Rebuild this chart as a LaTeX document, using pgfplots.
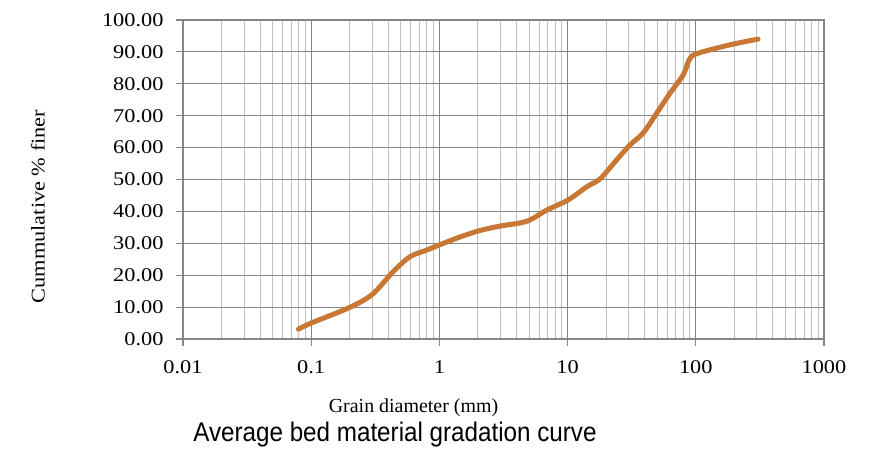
\documentclass[border=0pt]{standalone}
\usepackage{pgfplots}
\pgfplotsset{compat=1.18}
\usepackage{fontspec}
\setmainfont{Liberation Serif}
\newfontfamily\tnrwide[FakeStretch=1.15]{Liberation Serif}
\newfontfamily\arial[FakeStretch=0.9]{Liberation Sans}
\definecolor{curve}{RGB}{200,120,52}
\definecolor{majgrid}{RGB}{134,134,134}
\definecolor{mingrid}{RGB}{192,192,192}
\begin{document}
\begin{tikzpicture}
\useasboundingbox (-183bp,-116bp) rectangle (688bp,339bp);
\begin{axis}[
  at={(0,0)}, anchor=south west,
  scale only axis, width=641bp, height=319bp,
  xmode=log, log basis x=10,
  xmin=0.01, xmax=1000, ymin=0, ymax=100,
  xtick={0.01,0.1,1,10,100,1000},
  xticklabels={0.01,0.1,1,10,100,1000},
  minor xtick={0.02,0.03,0.04,0.05,0.06,0.07,0.08,0.09,
               0.2,0.3,0.4,0.5,0.6,0.7,0.8,0.9,
               2,3,4,5,6,7,8,9,
               20,30,40,50,60,70,80,90,
               200,300,400,500,600,700,800,900},
  ytick={0,10,...,100},
  yticklabel={\pgfmathprintnumber[fixed,fixed zerofill,precision=2]{\tick}},
  /pgf/number format/assume math mode=true,
  tick label style={font=\tnrwide\fontsize{19.5}{22}\selectfont},
  xlabel={Grain diameter (mm)},
  ylabel={Cummulative \% finer},
  xlabel style={font=\fontsize{20}{23}\selectfont, at={(axis description cs:0.5,0)}, anchor=center, yshift=-69bp, xshift=-90bp},
  ylabel style={font=\tnrwide\fontsize{19.5}{23}\selectfont, at={(axis description cs:0,0.5)}, anchor=center, yshift=145bp, xshift=-27bp},
  grid=both,
  major grid style={draw=majgrid, line width=1.1bp},
  minor grid style={draw=mingrid, line width=1bp},
  axis line style={draw=majgrid, line width=1.1bp},
  tick align=outside,
  major tick length=7bp,
  minor tick length=0pt,
  tick style={draw=majgrid, line width=1.1bp},
  xtick pos=bottom, ytick pos=left,
  yticklabel style={xshift=-9bp},
  xticklabel style={yshift=-11bp},
  clip=false,
]
\addplot[curve, line width=5bp, smooth, tension=0.5, line cap=round] coordinates {
(0.0796,3.1)
(0.1,5.0)
(0.2,9.9)
(0.3,14.0)
(0.438,21.2)
(0.59,25.8)
(0.80,27.9)
(1.0,29.5)
(1.45,32.0)
(2.07,34.0)
(2.97,35.4)
(4.8,36.9)
(6.87,40.4)
(10.1,43.6)
(14.1,47.7)
(17.9,50.2)
(24.1,56.1)
(30.6,60.8)
(38.9,64.6)
(50.9,71.5)
(62.8,77.0)
(79.8,82.8)
(90,88.0)
(104.5,89.6)
(184,92.2)
(306,94.0)
};
\end{axis}
\node[font=\arial\fontsize{27}{30}\selectfont, anchor=center] at (212bp,-96bp) {Average bed material gradation curve};
\end{tikzpicture}
\end{document}
